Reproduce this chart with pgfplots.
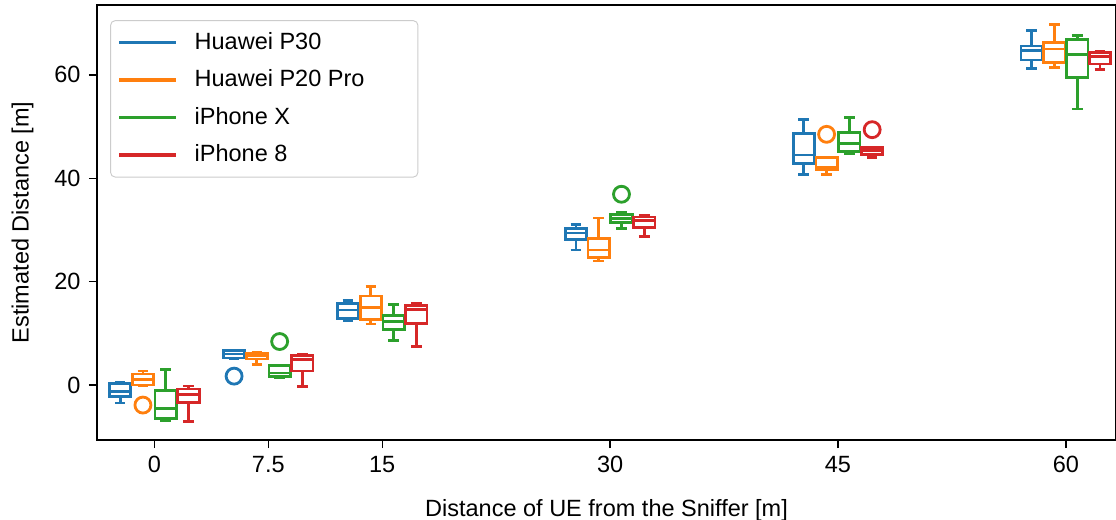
\documentclass[border=0pt]{standalone}
\usepackage{fontspec}
\setmainfont{Liberation Sans}
\usepackage{pgfplots}
\pgfplotsset{compat=1.18}
\usepgfplotslibrary{statistics}
\usetikzlibrary{calc}

\definecolor{c1}{HTML}{1F77B4}
\definecolor{c2}{HTML}{FF7F0E}
\definecolor{c3}{HTML}{2CA02C}
\definecolor{c4}{HTML}{D62728}

\pgfplotsset{
  /pgfplots/boxplot/draw direction=y,
  /pgfplots/boxplot/box extend=1.4,
  /pgfplots/boxplot/whisker extend=0.7,
  bx/.style={solid, line width=1.2pt, mark=o, mark size=3.4pt,
    mark options={solid, line width=1.2pt}, forget plot},
}

\begin{document}
\begin{tikzpicture}
\begin{axis}[
  scale only axis,
  width=433.6pt, height=185.1pt,
  xmin=-3.77, xmax=63.3,
  ymin=-10.64, ymax=73.54,
  xtick={0,7.5,15,30,45,60},
  xticklabels={0,7.5,15,30,45,60},
  ytick={0,20,40,60},
  tick align=outside,
  major tick length=3.5pt,
  tick style={black, line width=0.6pt},
  axis line style={line width=0.6pt},
  xtick pos=bottom, ytick pos=left,
  /pgf/number format/assume math mode=true,
  tick label style={font=\fontsize{10}{12}\selectfont},
  label style={font=\fontsize{10}{12}\selectfont},
  xlabel={Distance of UE from the Sniffer [m]},
  ylabel={Estimated Distance [m]},
  x label style={at={(axis description cs:0.5,-0.161)}, anchor=center},
  y label style={at={(axis description cs:-0.0731,0.5)}, anchor=center},
  legend cell align=left,
  legend style={
    at={(axis description cs:0.0128,0.965)}, anchor=north west,
    draw=black!20, rounded corners=2pt, fill=white, fill opacity=0.8,
    text opacity=1, font=\fontsize{10}{12}\selectfont,
    inner xsep=3pt, inner ysep=3pt, row sep=3.2pt,
  },
  legend image code/.code={\draw[#1] (0pt,0pt) -- (24.3pt,0pt);},
]
% ---- 0 m ----
\addplot[c1, bx, boxplot prepared={draw position=-2.25, lower whisker=-3.5, lower quartile=-2.3, median=-1.2, upper quartile=0.3, upper whisker=0.5}] coordinates {};
\addplot[c2, bx, boxplot prepared={draw position=-0.75, lower whisker=-0.1, lower quartile=0.0, median=1.0, upper quartile=2.1, upper whisker=2.7}] coordinates {(0,-3.9)};
\addplot[c3, bx, boxplot prepared={draw position=0.75, lower whisker=-6.9, lower quartile=-6.5, median=-4.5, upper quartile=-1.0, upper whisker=3.0}] coordinates {};
\addplot[c4, bx, boxplot prepared={draw position=2.25, lower whisker=-7.0, lower quartile=-3.4, median=-1.9, upper quartile=-0.8, upper whisker=-0.2}] coordinates {};
% ---- 7.5 m ----
\addplot[c1, bx, boxplot prepared={draw position=5.25, lower whisker=5.1, lower quartile=5.2, median=6.0, upper quartile=6.6, upper whisker=6.7}] coordinates {(0,1.7)};
\addplot[c2, bx, boxplot prepared={draw position=6.75, lower whisker=4.0, lower quartile=5.0, median=5.7, upper quartile=6.1, upper whisker=6.3}] coordinates {};
\addplot[c3, bx, boxplot prepared={draw position=8.25, lower whisker=1.5, lower quartile=1.7, median=2.3, upper quartile=3.7, upper whisker=3.7}] coordinates {(0,8.4)};
\addplot[c4, bx, boxplot prepared={draw position=9.75, lower whisker=-0.3, lower quartile=2.7, median=4.9, upper quartile=5.7, upper whisker=5.9}] coordinates {};
% ---- 15 m ----
\addplot[c1, bx, boxplot prepared={draw position=12.75, lower whisker=12.4, lower quartile=12.9, median=14.5, upper quartile=15.8, upper whisker=16.3}] coordinates {};
\addplot[c2, bx, boxplot prepared={draw position=14.25, lower whisker=11.8, lower quartile=12.7, median=15.0, upper quartile=17.2, upper whisker=19.0}] coordinates {};
\addplot[c3, bx, boxplot prepared={draw position=15.75, lower whisker=8.6, lower quartile=10.8, median=12.3, upper quartile=13.5, upper whisker=15.5}] coordinates {};
\addplot[c4, bx, boxplot prepared={draw position=17.25, lower whisker=7.5, lower quartile=11.9, median=14.6, upper quartile=15.3, upper whisker=15.8}] coordinates {};
% ---- 30 m ----
\addplot[c1, bx, boxplot prepared={draw position=27.75, lower whisker=26.1, lower quartile=28.1, median=29.4, upper quartile=30.3, upper whisker=31.0}] coordinates {};
\addplot[c2, bx, boxplot prepared={draw position=29.25, lower whisker=24.0, lower quartile=24.7, median=26.1, upper quartile=28.3, upper whisker=32.3}] coordinates {};
\addplot[c3, bx, boxplot prepared={draw position=30.75, lower whisker=30.2, lower quartile=31.5, median=32.2, upper quartile=33.0, upper whisker=33.3}] coordinates {(0,36.9)};
\addplot[c4, bx, boxplot prepared={draw position=32.25, lower whisker=28.8, lower quartile=30.4, median=31.9, upper quartile=32.5, upper whisker=32.8}] coordinates {};
% ---- 45 m ----
\addplot[c1, bx, boxplot prepared={draw position=42.75, lower whisker=40.8, lower quartile=42.9, median=44.5, upper quartile=48.7, upper whisker=51.3}] coordinates {};
\addplot[c2, bx, boxplot prepared={draw position=44.25, lower whisker=40.8, lower quartile=41.6, median=42.0, upper quartile=44.0, upper whisker=44.0}] coordinates {(0,48.5)};
\addplot[c3, bx, boxplot prepared={draw position=45.75, lower whisker=44.7, lower quartile=45.2, median=46.8, upper quartile=48.8, upper whisker=51.8}] coordinates {};
\addplot[c4, bx, boxplot prepared={draw position=47.25, lower whisker=44.0, lower quartile=44.6, median=45.3, upper quartile=46.0, upper whisker=46.0}] coordinates {(0,49.4)};
% ---- 60 m ----
\addplot[c1, bx, boxplot prepared={draw position=57.75, lower whisker=61.3, lower quartile=62.9, median=64.7, upper quartile=65.6, upper whisker=68.6}] coordinates {};
\addplot[c2, bx, boxplot prepared={draw position=59.25, lower whisker=61.4, lower quartile=62.4, median=65.0, upper quartile=66.3, upper whisker=69.7}] coordinates {};
\addplot[c3, bx, boxplot prepared={draw position=60.75, lower whisker=53.4, lower quartile=59.5, median=63.9, upper quartile=66.9, upper whisker=67.6}] coordinates {};
\addplot[c4, bx, boxplot prepared={draw position=62.25, lower whisker=61.1, lower quartile=62.1, median=63.6, upper quartile=64.3, upper whisker=64.5}] coordinates {};

\addlegendimage{c1, line width=1.5pt}
\addlegendentry{\hspace{5pt}\makebox[90pt][l]{Huawei P30}}
\addlegendimage{c2, line width=1.5pt}
\addlegendentry{\hspace{5pt}\makebox[90pt][l]{Huawei P20 Pro}}
\addlegendimage{c3, line width=1.5pt}
\addlegendentry{\hspace{5pt}\makebox[90pt][l]{iPhone X}}
\addlegendimage{c4, line width=1.5pt}
\addlegendentry{\hspace{5pt}\makebox[90pt][l]{iPhone 8}}

\coordinate (bl) at (rel axis cs:0,0);
\coordinate (tr) at (rel axis cs:1,1);
\end{axis}
\pgfresetboundingbox
\path[use as bounding box] ($(bl)+(-41.3pt,-34.0pt)$) rectangle ($(tr)+(0pt,2.1pt)$);
\end{tikzpicture}
\end{document}
